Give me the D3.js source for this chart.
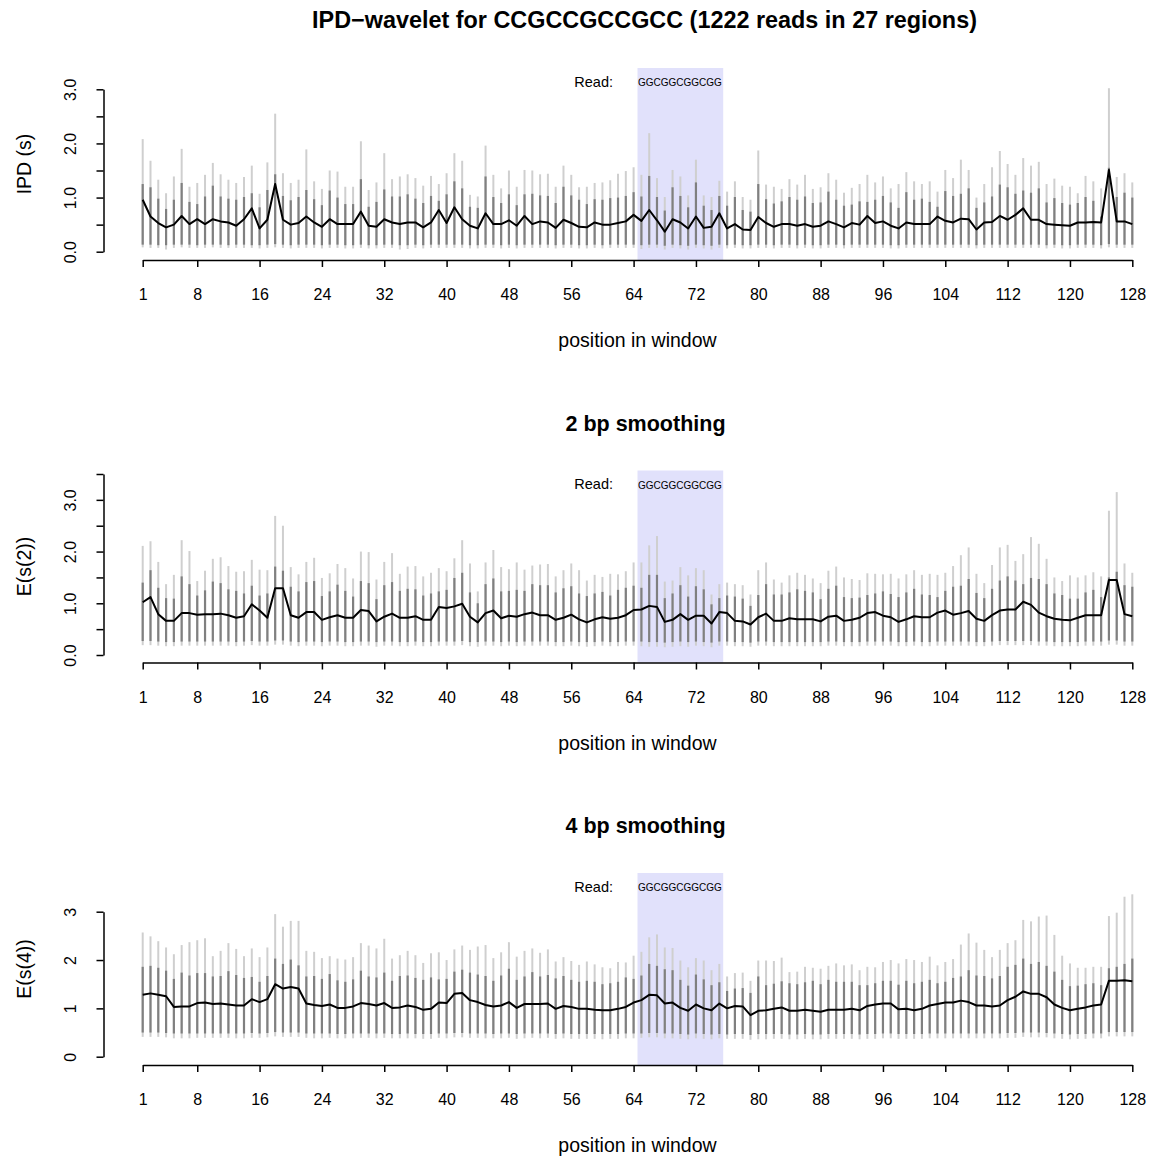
<!DOCTYPE html>
<html>
<head>
<meta charset="utf-8">
<script src="https://cdn.jsdelivr.net/npm/d3@7"></script>
<style>
  body { margin: 0; background: #fff; }
  svg { display: block; font-family: "Liberation Sans", Arial, Helvetica, sans-serif; }
</style>
</head>
<body>
<svg id="chart" width="1151" height="1156"></svg>
<script>
// ---- data ----
const positions = d3.range(1, 129);
const xTicks = [1, 8, 16, 24, 32, 40, 48, 56, 64, 72, 80, 88, 96, 104, 112, 120, 128];
const highlight = [64.5, 75.5];
const readSeq = "GGCGGCGGCGG";
const mainTitle = "IPD\u2212wavelet for CCGCCGCCGCC (1222 reads in 27 regions)";
const panelTitles = ["", "2 bp smoothing", "4 bp smoothing"];
const yTitles = ["IPD (s)", "E(s(2))", "E(s(4))"];

const yTicks1 = [0, 0.5, 1, 1.5, 2, 2.5, 3];
const yTickLabels1 = ["0.0", "", "1.0", "", "2.0", "", "3.0"];
const yTicks2 = [0, 0.5, 1, 1.5, 2, 2.5, 3, 3.5];
const yTickLabels2 = ["0.0", "", "1.0", "", "2.0", "", "3.0", ""];
const yTicks3 = [0, 1, 2, 3];
const yTickLabels3 = ["0", "1", "2", "3"];

// panel 1: raw IPD
const ipdMed = [
  0.96,0.65,0.53,0.45,0.50,0.66,0.51,0.60,0.51,0.60,0.56,0.54,0.48,0.60,0.80,0.43,
  0.59,1.25,0.59,0.50,0.53,0.65,0.54,0.46,0.60,0.51,0.51,0.51,0.74,0.48,0.46,0.60,
  0.54,0.51,0.54,0.54,0.45,0.54,0.77,0.53,0.82,0.60,0.48,0.43,0.71,0.51,0.51,0.58,
  0.48,0.66,0.51,0.56,0.54,0.44,0.59,0.53,0.46,0.45,0.54,0.50,0.50,0.53,0.56,0.68,
  0.57,0.77,0.58,0.37,0.60,0.54,0.43,0.65,0.44,0.46,0.71,0.43,0.51,0.41,0.40,0.64,
  0.53,0.46,0.51,0.51,0.48,0.51,0.46,0.48,0.56,0.51,0.45,0.53,0.50,0.66,0.53,0.56,
  0.48,0.43,0.54,0.51,0.51,0.51,0.65,0.57,0.54,0.61,0.60,0.41,0.54,0.55,0.66,0.59,
  0.68,0.80,0.59,0.59,0.51,0.50,0.49,0.48,0.54,0.54,0.55,0.54,1.51,0.56,0.56,0.51
];
const ipdInnerHi = [
  1.25,1.19,0.98,0.79,0.96,1.27,0.92,0.88,1.02,1.22,1.02,0.98,0.96,1.01,1.08,0.82,
  1.14,1.43,1.03,0.95,1.01,1.14,0.97,0.86,1.13,1.00,0.88,0.88,1.34,0.83,0.92,1.15,
  1.02,1.02,1.06,0.98,0.90,1.03,0.94,1.06,1.30,1.17,0.83,0.81,1.39,1.01,0.90,1.06,
  0.86,1.06,1.07,1.04,1.03,0.90,1.20,1.04,0.96,0.88,0.97,0.96,0.99,1.00,1.03,1.10,
  1.02,1.40,1.01,0.76,1.19,1.03,0.82,1.28,0.85,0.77,1.03,0.85,1.01,0.77,0.74,1.25,
  0.97,0.89,0.93,1.01,0.96,1.02,0.90,0.91,1.11,0.96,0.85,0.87,0.93,0.92,0.96,1.03,
  0.91,0.81,1.10,0.96,0.98,0.92,0.83,1.12,1.03,1.07,1.17,0.81,0.91,1.02,1.24,1.19,
  1.07,1.13,1.09,1.17,0.91,0.99,0.90,0.87,0.90,1.01,0.94,0.65,1.55,1.01,1.09,1.00
];
const ipdOuterHi = [
  2.08,1.68,1.33,1.08,1.39,1.90,1.20,1.27,1.42,1.64,1.43,1.33,1.27,1.38,1.59,1.07,
  1.65,2.55,1.45,1.27,1.33,1.89,1.30,1.16,1.50,1.48,1.20,1.20,2.04,1.14,1.28,1.82,
  1.34,1.39,1.43,1.36,1.22,1.40,1.25,1.45,1.82,1.68,1.05,1.02,1.96,1.42,1.17,1.50,
  1.20,1.51,1.50,1.43,1.44,1.20,1.59,1.42,1.19,1.20,1.27,1.28,1.32,1.44,1.49,1.56,
  1.42,2.19,1.36,1.01,1.51,1.39,1.04,1.70,1.04,1.01,1.31,1.11,1.30,1.01,0.96,1.87,
  1.24,1.20,1.16,1.34,1.24,1.42,1.16,1.19,1.45,1.33,1.09,1.18,1.25,1.42,1.28,1.39,
  1.17,1.25,1.47,1.30,1.25,1.30,1.11,1.51,1.36,1.70,1.51,1.00,1.25,1.56,1.86,1.62,
  1.42,1.73,1.59,1.66,1.25,1.35,1.22,1.20,1.08,1.40,1.30,1.17,3.02,1.38,1.45,1.28
];
const ipdInnerLo = [
  0.13,0.13,0.12,0.12,0.13,0.13,0.13,0.12,0.13,0.13,0.13,0.12,0.13,0.13,0.12,0.12,
  0.13,0.14,0.13,0.12,0.13,0.13,0.13,0.12,0.13,0.13,0.12,0.12,0.13,0.12,0.12,0.13,
  0.13,0.12,0.12,0.13,0.12,0.13,0.13,0.13,0.13,0.13,0.12,0.12,0.13,0.13,0.12,0.13,
  0.12,0.13,0.13,0.13,0.13,0.12,0.13,0.13,0.12,0.12,0.13,0.12,0.13,0.13,0.13,0.13,
  0.12,0.13,0.13,0.11,0.13,0.12,0.11,0.13,0.12,0.11,0.13,0.12,0.13,0.12,0.12,0.13,
  0.13,0.12,0.13,0.13,0.12,0.13,0.12,0.12,0.13,0.13,0.12,0.13,0.13,0.13,0.13,0.13,
  0.12,0.12,0.13,0.13,0.13,0.13,0.13,0.13,0.13,0.13,0.13,0.12,0.13,0.13,0.13,0.13,
  0.13,0.13,0.13,0.13,0.12,0.13,0.12,0.12,0.13,0.13,0.13,0.12,0.14,0.13,0.13,0.13
];
const ipdOuterLo = [
  0.08,0.07,0.07,0.04,0.07,0.08,0.07,0.07,0.07,0.08,0.07,0.07,0.07,0.07,0.07,0.06,
  0.07,0.08,0.07,0.06,0.07,0.07,0.07,0.06,0.07,0.07,0.06,0.06,0.07,0.06,0.06,0.07,
  0.07,0.04,0.05,0.07,0.06,0.07,0.07,0.07,0.07,0.07,0.06,0.06,0.07,0.07,0.06,0.07,
  0.06,0.07,0.07,0.07,0.07,0.06,0.07,0.07,0.06,0.06,0.07,0.06,0.07,0.07,0.07,0.07,
  0.05,0.07,0.07,0.04,0.07,0.06,0.04,0.07,0.06,0.04,0.07,0.06,0.07,0.06,0.06,0.07,
  0.07,0.06,0.07,0.07,0.06,0.07,0.06,0.06,0.07,0.07,0.06,0.07,0.07,0.07,0.07,0.07,
  0.06,0.06,0.07,0.07,0.07,0.07,0.07,0.07,0.07,0.07,0.07,0.06,0.07,0.07,0.07,0.07,
  0.07,0.07,0.07,0.07,0.06,0.07,0.06,0.06,0.07,0.07,0.07,0.06,0.08,0.07,0.07,0.07
];

// panel 2: 2 bp smoothing
const s2Med = [
  1.02,1.12,0.79,0.66,0.66,0.81,0.81,0.78,0.79,0.79,0.80,0.77,0.72,0.75,0.98,0.86,
  0.72,1.29,1.29,0.77,0.72,0.83,0.83,0.68,0.73,0.77,0.72,0.72,0.87,0.85,0.65,0.74,
  0.80,0.72,0.72,0.75,0.68,0.68,0.93,0.91,0.94,0.99,0.74,0.63,0.81,0.86,0.71,0.76,
  0.74,0.79,0.82,0.77,0.77,0.68,0.72,0.78,0.69,0.63,0.69,0.73,0.70,0.72,0.77,0.87,
  0.88,0.95,0.93,0.64,0.68,0.79,0.68,0.76,0.76,0.61,0.83,0.81,0.66,0.65,0.59,0.73,
  0.80,0.66,0.66,0.71,0.69,0.69,0.69,0.65,0.74,0.76,0.66,0.68,0.72,0.81,0.83,0.76,
  0.73,0.64,0.69,0.75,0.73,0.73,0.82,0.86,0.78,0.81,0.85,0.70,0.66,0.77,0.86,0.88,
  0.88,1.03,0.97,0.82,0.75,0.70,0.68,0.67,0.72,0.77,0.77,0.77,1.45,1.45,0.79,0.75
];
const s2InnerHi = [
  1.40,1.64,1.30,1.10,1.09,1.52,1.37,1.15,1.25,1.42,1.39,1.27,1.24,1.19,1.34,1.15,
  1.19,1.71,1.63,1.32,1.23,1.41,1.43,1.14,1.23,1.36,1.24,1.13,1.43,1.39,1.08,1.35,
  1.41,1.24,1.28,1.27,1.15,1.19,1.23,1.26,1.49,1.59,1.21,1.00,1.37,1.48,1.23,1.24,
  1.26,1.24,1.37,1.35,1.35,1.21,1.29,1.33,1.19,1.14,1.19,1.22,1.15,1.26,1.30,1.34,
  1.30,1.55,1.55,1.10,1.19,1.35,1.13,1.33,1.27,0.98,1.10,1.15,1.13,1.09,0.95,1.16,
  1.37,1.17,1.17,1.21,1.27,1.24,1.21,1.08,1.28,1.34,1.12,1.10,1.11,1.16,1.19,1.23,
  1.18,1.12,1.21,1.28,1.17,1.16,1.12,1.24,1.32,1.34,1.47,1.20,1.10,1.28,1.44,1.52,
  1.44,1.37,1.49,1.47,1.37,1.19,1.16,1.09,1.09,1.21,1.26,1.12,1.50,1.61,1.35,1.32
];
const s2OuterHi = [
  2.11,2.20,1.80,1.37,1.55,2.22,2.01,1.43,1.63,1.86,1.89,1.72,1.61,1.62,1.84,1.65,
  1.64,2.69,2.50,1.70,1.56,1.80,1.88,1.49,1.58,1.76,1.68,1.48,2.00,1.99,1.46,1.80,
  1.97,1.57,1.71,1.72,1.52,1.59,1.68,1.62,1.87,2.22,1.77,1.23,1.79,2.03,1.70,1.66,
  1.79,1.65,1.73,1.75,1.76,1.52,1.64,1.77,1.64,1.44,1.55,1.51,1.57,1.56,1.62,1.79,
  1.79,2.12,2.30,1.42,1.44,1.70,1.54,1.68,1.64,1.17,1.37,1.40,1.37,1.35,1.17,1.64,
  1.79,1.46,1.40,1.54,1.59,1.55,1.48,1.39,1.63,1.71,1.50,1.47,1.45,1.58,1.57,1.56,
  1.57,1.48,1.56,1.64,1.55,1.57,1.55,1.59,1.72,1.93,2.08,1.57,1.39,1.74,2.08,2.13,
  1.82,1.95,2.28,2.15,1.86,1.50,1.43,1.54,1.50,1.54,1.60,1.52,2.79,3.15,1.77,1.59
];
const s2InnerLo = [
  0.27,0.27,0.26,0.25,0.25,0.26,0.26,0.26,0.26,0.26,0.26,0.26,0.25,0.26,0.27,0.26,
  0.26,0.28,0.28,0.26,0.25,0.26,0.26,0.25,0.26,0.26,0.25,0.25,0.26,0.26,0.25,0.26,
  0.26,0.25,0.25,0.26,0.25,0.25,0.26,0.26,0.26,0.27,0.25,0.25,0.26,0.26,0.25,0.26,
  0.25,0.26,0.26,0.26,0.26,0.25,0.25,0.26,0.25,0.25,0.25,0.26,0.25,0.25,0.26,0.26,
  0.26,0.25,0.25,0.24,0.25,0.26,0.25,0.26,0.25,0.24,0.26,0.26,0.25,0.25,0.24,0.26,
  0.26,0.25,0.25,0.25,0.25,0.25,0.25,0.25,0.26,0.26,0.25,0.25,0.25,0.26,0.26,0.26,
  0.26,0.25,0.25,0.26,0.25,0.25,0.26,0.26,0.26,0.26,0.26,0.25,0.25,0.26,0.27,0.27,
  0.27,0.27,0.27,0.26,0.26,0.25,0.25,0.25,0.25,0.26,0.26,0.26,0.28,0.28,0.26,0.26
];
const s2OuterLo = [
  0.19,0.19,0.18,0.17,0.17,0.18,0.18,0.18,0.18,0.18,0.18,0.18,0.17,0.18,0.19,0.18,
  0.18,0.20,0.20,0.18,0.17,0.18,0.18,0.17,0.18,0.18,0.17,0.17,0.18,0.18,0.16,0.18,
  0.18,0.17,0.17,0.18,0.17,0.17,0.18,0.18,0.18,0.19,0.17,0.16,0.18,0.18,0.17,0.18,
  0.17,0.18,0.18,0.18,0.18,0.17,0.17,0.18,0.17,0.16,0.17,0.18,0.17,0.17,0.18,0.18,
  0.17,0.16,0.16,0.15,0.16,0.17,0.16,0.18,0.17,0.15,0.18,0.18,0.17,0.17,0.16,0.18,
  0.18,0.17,0.17,0.17,0.17,0.17,0.17,0.17,0.18,0.18,0.17,0.17,0.17,0.18,0.18,0.18,
  0.18,0.17,0.17,0.18,0.17,0.17,0.18,0.18,0.18,0.18,0.18,0.17,0.17,0.18,0.19,0.19,
  0.19,0.19,0.19,0.18,0.18,0.17,0.17,0.17,0.17,0.18,0.18,0.18,0.20,0.20,0.18,0.18
];

// panel 3: 4 bp smoothing
const s4Med = [
  1.28,1.31,1.28,1.25,1.03,1.04,1.04,1.11,1.12,1.09,1.10,1.08,1.06,1.06,1.19,1.13,
  1.19,1.50,1.41,1.44,1.41,1.10,1.07,1.05,1.08,1.01,1.01,1.04,1.11,1.09,1.06,1.11,
  1.01,1.02,1.06,1.03,0.97,0.99,1.12,1.11,1.30,1.32,1.17,1.13,1.07,1.04,1.06,1.13,
  1.01,1.09,1.09,1.09,1.10,0.99,1.05,1.03,0.99,0.99,0.97,0.96,0.96,0.99,1.03,1.12,
  1.17,1.28,1.27,1.10,1.12,1.01,0.95,1.08,1.00,0.96,1.10,1.00,1.05,1.04,0.86,0.95,
  0.96,0.99,1.02,0.95,0.95,0.97,0.95,0.93,0.97,0.97,0.97,0.99,0.96,1.05,1.08,1.10,
  1.10,0.98,0.99,0.96,0.99,1.06,1.09,1.12,1.12,1.16,1.13,1.06,1.06,1.04,1.06,1.17,
  1.24,1.35,1.30,1.30,1.23,1.08,1.01,0.96,0.99,1.02,1.06,1.08,1.57,1.57,1.58,1.56
];
const s4InnerHi = [
  1.86,1.88,1.84,1.78,1.61,1.74,1.68,1.73,1.73,1.66,1.67,1.77,1.69,1.63,1.65,1.55,
  1.67,2.03,1.92,2.01,1.89,1.66,1.67,1.61,1.71,1.58,1.55,1.60,1.78,1.66,1.64,1.74,
  1.57,1.67,1.68,1.63,1.59,1.64,1.60,1.61,1.76,1.80,1.74,1.70,1.67,1.57,1.68,1.82,
  1.59,1.66,1.75,1.66,1.69,1.62,1.67,1.59,1.55,1.57,1.55,1.50,1.52,1.55,1.64,1.61,
  1.68,1.92,1.88,1.81,1.79,1.59,1.47,1.70,1.60,1.48,1.54,1.36,1.41,1.42,1.32,1.66,
  1.48,1.51,1.56,1.52,1.50,1.54,1.57,1.50,1.59,1.55,1.55,1.55,1.48,1.48,1.52,1.57,
  1.57,1.49,1.57,1.52,1.55,1.59,1.52,1.55,1.63,1.66,1.79,1.68,1.67,1.62,1.67,1.86,
  1.90,2.03,1.92,1.96,1.88,1.76,1.59,1.46,1.47,1.50,1.52,1.48,1.83,1.86,1.92,2.03
];
const s4OuterHi = [
  2.57,2.49,2.39,2.26,2.12,2.31,2.37,2.41,2.45,2.08,2.19,2.35,2.23,2.08,2.24,2.06,
  2.26,2.95,2.69,2.81,2.81,2.19,2.17,2.04,2.08,2.03,2.01,2.06,2.35,2.30,2.24,2.44,
  2.03,2.10,2.19,2.10,1.94,2.14,2.16,2.00,2.22,2.30,2.21,2.28,2.31,2.04,2.16,2.37,
  2.07,2.19,2.24,2.15,2.22,1.97,2.06,1.98,1.90,1.97,1.91,1.85,1.83,1.96,1.95,2.09,
  2.17,2.47,2.53,2.26,2.25,1.99,1.85,2.04,1.99,1.79,1.92,1.66,1.73,1.74,1.57,1.99,
  1.99,1.98,2.05,1.75,1.76,1.86,1.84,1.82,1.88,1.93,1.89,1.91,1.79,1.86,1.85,1.96,
  2.00,1.93,2.02,2.00,1.96,2.07,1.89,1.96,2.02,2.32,2.55,2.36,2.21,2.06,2.21,2.35,
  2.41,2.83,2.80,2.90,2.92,2.52,2.09,1.93,1.84,1.84,1.86,1.86,2.91,2.98,3.31,3.36
];
const s4InnerLo = [
  0.50,0.50,0.50,0.49,0.48,0.48,0.48,0.48,0.48,0.48,0.48,0.48,0.48,0.48,0.49,0.48,
  0.49,0.51,0.50,0.50,0.50,0.48,0.48,0.48,0.48,0.47,0.47,0.48,0.48,0.48,0.48,0.48,
  0.47,0.47,0.48,0.47,0.47,0.47,0.48,0.48,0.49,0.49,0.48,0.48,0.48,0.47,0.48,0.48,
  0.47,0.48,0.48,0.48,0.48,0.47,0.48,0.47,0.47,0.47,0.47,0.47,0.47,0.47,0.48,0.48,
  0.48,0.49,0.49,0.48,0.48,0.47,0.46,0.48,0.47,0.46,0.47,0.46,0.47,0.47,0.45,0.47,
  0.47,0.47,0.47,0.46,0.46,0.47,0.46,0.46,0.47,0.47,0.47,0.47,0.46,0.47,0.47,0.48,
  0.48,0.47,0.47,0.47,0.47,0.48,0.48,0.48,0.48,0.48,0.48,0.48,0.48,0.48,0.48,0.49,
  0.49,0.50,0.50,0.50,0.49,0.48,0.47,0.46,0.47,0.47,0.48,0.48,0.51,0.51,0.51,0.51
];
const s4OuterLo = [
  0.41,0.41,0.41,0.40,0.38,0.38,0.38,0.39,0.39,0.39,0.39,0.39,0.38,0.38,0.39,0.39,
  0.40,0.42,0.41,0.41,0.41,0.39,0.38,0.38,0.39,0.38,0.38,0.38,0.39,0.39,0.38,0.39,
  0.38,0.38,0.38,0.38,0.37,0.37,0.39,0.38,0.40,0.40,0.39,0.39,0.38,0.38,0.38,0.39,
  0.37,0.38,0.39,0.38,0.39,0.37,0.38,0.37,0.37,0.37,0.37,0.36,0.37,0.37,0.38,0.38,
  0.39,0.40,0.40,0.38,0.38,0.37,0.36,0.38,0.37,0.36,0.38,0.37,0.37,0.37,0.35,0.36,
  0.36,0.37,0.37,0.36,0.36,0.37,0.36,0.36,0.37,0.37,0.37,0.37,0.36,0.37,0.37,0.38,
  0.38,0.37,0.37,0.37,0.37,0.38,0.38,0.38,0.38,0.38,0.38,0.38,0.38,0.38,0.38,0.39,
  0.39,0.41,0.40,0.40,0.40,0.38,0.37,0.36,0.37,0.37,0.38,0.38,0.42,0.42,0.42,0.42
];

// ---- layout ----
const svg = d3.select("#chart");
const fontTick = 16;
const fontLab = 19.5;

const x = d3.scaleLinear().domain([1, 128]).range([142.7, 1132.3]);
const axisLeft = 103.5;
const plotH = 192;
const centerX = 637.5;

const panels = [
  { top: 68, y0: 251.7, yTopPx: 89.3, yMax: 3, ticks: yTicks1, tickLabels: yTickLabels1,
    med: ipdMed, innerHi: ipdInnerHi, outerHi: ipdOuterHi, innerLo: ipdInnerLo, outerLo: ipdOuterLo },
  { top: 470.5, y0: 655, yTopPx: 474, yMax: 3.5, ticks: yTicks2, tickLabels: yTickLabels2,
    med: s2Med, innerHi: s2InnerHi, outerHi: s2OuterHi, innerLo: s2InnerLo, outerLo: s2OuterLo },
  { top: 873, y0: 1056.7, yTopPx: 911.7, yMax: 3, ticks: yTicks3, tickLabels: yTickLabels3,
    med: s4Med, innerHi: s4InnerHi, outerHi: s4OuterHi, innerLo: s4InnerLo, outerLo: s4OuterLo }
];

// main title
svg.append("text")
  .attr("x", 644.5)
  .attr("y", 28)
  .attr("text-anchor", "middle")
  .attr("font-size", "23.4px")
  .attr("font-weight", "bold")
  .text(mainTitle);

panels.forEach((p, i) => {
  const g = svg.append("g");
  const bottom = p.top + plotH;
  const y = d3.scaleLinear().domain([0, p.yMax]).range([p.y0, p.yTopPx]);

  const rows = positions.map((pos, k) => ({
    pos,
    med: p.med[k],
    innerHi: p.innerHi[k],
    outerHi: p.outerHi[k],
    innerLo: p.innerLo[k],
    outerLo: p.outerLo[k]
  }));

  // highlighted read window
  g.append("rect")
    .attr("x", x(highlight[0]))
    .attr("y", p.top)
    .attr("width", x(highlight[1]) - x(highlight[0]))
    .attr("height", plotH)
    .attr("fill", "#e1e1fb");

  // outer range (light grey)
  g.selectAll(".outer")
    .data(rows)
    .enter()
    .append("line")
    .attr("x1", (d) => x(d.pos))
    .attr("x2", (d) => x(d.pos))
    .attr("y1", (d) => y(d.outerLo))
    .attr("y2", (d) => y(d.outerHi))
    .attr("stroke", "#cfcfcf")
    .attr("stroke-width", 2);

  // inner range (dark grey)
  g.selectAll(".inner")
    .data(rows)
    .enter()
    .append("line")
    .attr("x1", (d) => x(d.pos))
    .attr("x2", (d) => x(d.pos))
    .attr("y1", (d) => y(d.innerLo))
    .attr("y2", (d) => y(d.innerHi))
    .attr("stroke", "#808080")
    .attr("stroke-width", 2.2);

  // median line
  g.append("path")
    .datum(rows)
    .attr("fill", "none")
    .attr("stroke", "#000")
    .attr("stroke-width", 2)
    .attr("stroke-linejoin", "round")
    .attr("d", d3.line().x((d) => x(d.pos)).y((d) => y(d.med)));

  // read label
  g.append("text")
    .attr("x", 613)
    .attr("y", p.top + 18.5)
    .attr("text-anchor", "end")
    .attr("font-size", "14.5px")
    .text("Read:");

  g.append("text")
    .attr("x", x(highlight[0]) + 0.5)
    .attr("y", p.top + 18)
    .attr("font-size", "10px")
    .text(readSeq);

  // x axis
  const xAxis = g.append("g")
    .attr("transform", `translate(0,${bottom})`)
    .call(d3.axisBottom(x).tickValues(xTicks).tickSize(7).tickSizeOuter(0).tickPadding(22));
  xAxis.select(".domain").attr("stroke", "#000").attr("stroke-width", 1.5);
  xAxis.selectAll(".tick line").attr("stroke", "#000").attr("stroke-width", 1.5);
  xAxis.selectAll(".tick text")
    .attr("font-size", fontTick + "px")
    .attr("font-family", "'Liberation Sans', Arial, sans-serif")
    .attr("fill", "#000");

  g.append("text")
    .attr("x", centerX)
    .attr("y", bottom + 87)
    .attr("text-anchor", "middle")
    .attr("font-size", fontLab + "px")
    .text("position in window");

  // y axis
  const yAxis = g.append("g")
    .attr("transform", `translate(${axisLeft},0)`)
    .call(d3.axisLeft(y).tickValues(p.ticks).tickSize(7).tickSizeOuter(0)
      .tickFormat((d, k) => p.tickLabels[k]));
  yAxis.select(".domain").attr("stroke", "#000").attr("stroke-width", 1.5);
  yAxis.selectAll(".tick line").attr("stroke", "#000").attr("stroke-width", 1.5);
  yAxis.selectAll(".tick text")
    .attr("font-size", fontTick + "px")
    .attr("font-family", "'Liberation Sans', Arial, sans-serif")
    .attr("fill", "#000")
    .attr("text-anchor", "middle")
    .attr("dy", null)
    .attr("x", null)
    .attr("transform", "translate(-28,0) rotate(-90)")
    .attr("y", 0);

  g.append("text")
    .attr("transform", `translate(31,${p.top + plotH / 2}) rotate(-90)`)
    .attr("text-anchor", "middle")
    .attr("font-size", fontLab + "px")
    .text(yTitles[i]);

  if (panelTitles[i]) {
    g.append("text")
      .attr("x", centerX + 8)
      .attr("y", p.top - 40)
      .attr("text-anchor", "middle")
      .attr("font-size", "21.5px")
      .attr("font-weight", "bold")
      .text(panelTitles[i]);
  }
});
</script>
</body>
</html>
